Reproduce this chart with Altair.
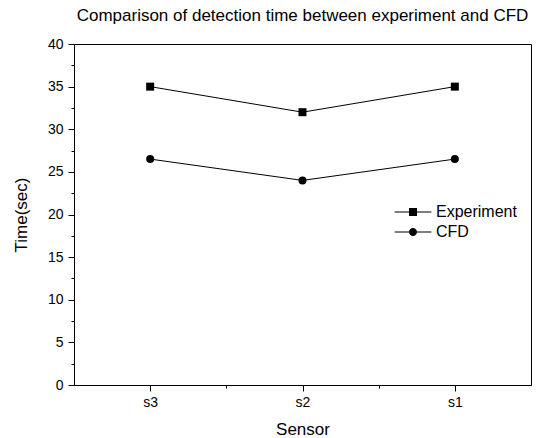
import json
import altair as alt
import pandas as pd

# ---- data ----
sensors = ["s3", "s2", "s1"]
experiment = [35, 32, 35]
cfd = [26.5, 24, 26.5]
series_names = ["Experiment", "CFD"]

y_major = [0, 5, 10, 15, 20, 25, 30, 35, 40]
y_minor = [2.5, 7.5, 12.5, 17.5, 22.5, 27.5, 32.5, 37.5]
x_major = [1, 2, 3]
x_minor = [1.5, 2.5]

rows = []
for name, vals in zip(series_names, [experiment, cfd]):
    for i, (s, v) in enumerate(zip(sensors, vals)):
        rows.append({"series": name, "sensor": s, "pos": i + 1, "time": v})
df = pd.DataFrame(rows)

FONT = "Liberation Sans"
label_expr = json.dumps([""] + sensors) + "[datum.value]"

xscale = alt.Scale(domain=[0.5, 3.5], nice=False, zero=False)
yscale = alt.Scale(domain=[0, 40], nice=False, zero=False)

common_axis = dict(grid=False, domainColor="black", tickColor="black",
                   labelColor="black", labelFont=FONT, labelFontSize=14,
                   titleFont=FONT, titleFontSize=17, titleFontWeight="normal",
                   titleColor="black", domainWidth=1, tickWidth=1)

x_major_axis = alt.Axis(orient="bottom", values=x_major, labelExpr=label_expr,
                        title="Sensor", tickSize=6, labelPadding=4,
                        titlePadding=12, **common_axis)
y_major_axis = alt.Axis(orient="left", values=y_major, title="Time(sec)",
                        tickSize=6, labelPadding=5, titlePadding=17,
                        **common_axis)
x_minor_axis = alt.Axis(orient="bottom", values=x_minor, labels=False,
                        title=None, tickSize=3, domain=False, grid=False,
                        tickColor="black")
y_minor_axis = alt.Axis(orient="left", values=y_minor, labels=False,
                        title=None, tickSize=3, domain=False, grid=False,
                        tickColor="black")

base = alt.Chart(df)

lines = base.mark_line(color="black", strokeWidth=1).encode(
    x=alt.X("pos:Q", scale=xscale, axis=x_major_axis),
    y=alt.Y("time:Q", scale=yscale, axis=y_major_axis),
    detail="series:N",
)

points = base.mark_point(filled=True, color="black", opacity=1, size=64).encode(
    x=alt.X("pos:Q", scale=xscale, axis=x_minor_axis),
    y=alt.Y("time:Q", scale=yscale, axis=y_minor_axis),
    shape=alt.Shape("series:N",
                    scale=alt.Scale(domain=series_names, range=["square", "circle"]),
                    legend=None),
)

# legend glyphs: thin bar - marker - thin bar (unit = marker half width),
# all drawn as filled shapes
bars = "M-4.6,-0.13L-1,-0.13L-1,0.13L-4.6,0.13ZM1,-0.13L4.6,-0.13L4.6,0.13L1,0.13Z"
sq_path = bars + "M-1,-1L1,-1L1,1L-1,1Z"
ci_path = bars + "M1,0A1,1,0,1,1,-1,0A1,1,0,1,1,1,0Z"

legend_layer = base.transform_filter("false").mark_point(
    filled=True, color="black", opacity=1
).encode(
    shape=alt.Shape(
        "series:N",
        scale=alt.Scale(domain=series_names, range=[sq_path, ci_path]),
        legend=alt.Legend(
            title=None, orient="none", legendX=331, legendY=160,
            symbolSize=64, symbolFillColor="black",
            symbolOpacity=1, labelFont=FONT, labelFontSize=16,
            labelColor="black", labelOffset=15, rowPadding=4, padding=0,
        ),
    )
)

chart = (
    alt.layer(lines, points, legend_layer)
    .resolve_scale(shape="independent")
    .resolve_axis(x="independent", y="independent")
    .properties(
        width=457,
        height=341,
        padding={"left": 74, "top": 44, "right": 5, "bottom": 53},
        autosize=alt.AutoSizeParams(type="none"),
        background="white",
        title=alt.TitleParams(
            "Comparison of detection time between experiment and CFD",
            font=FONT, fontSize=17, fontWeight="normal", color="black",
            anchor="middle", offset=12,
        ),
    )
    .configure_view(stroke="black", strokeWidth=1)
)

chart.save("out.html", embed_options={"renderer": "svg", "actions": False})
